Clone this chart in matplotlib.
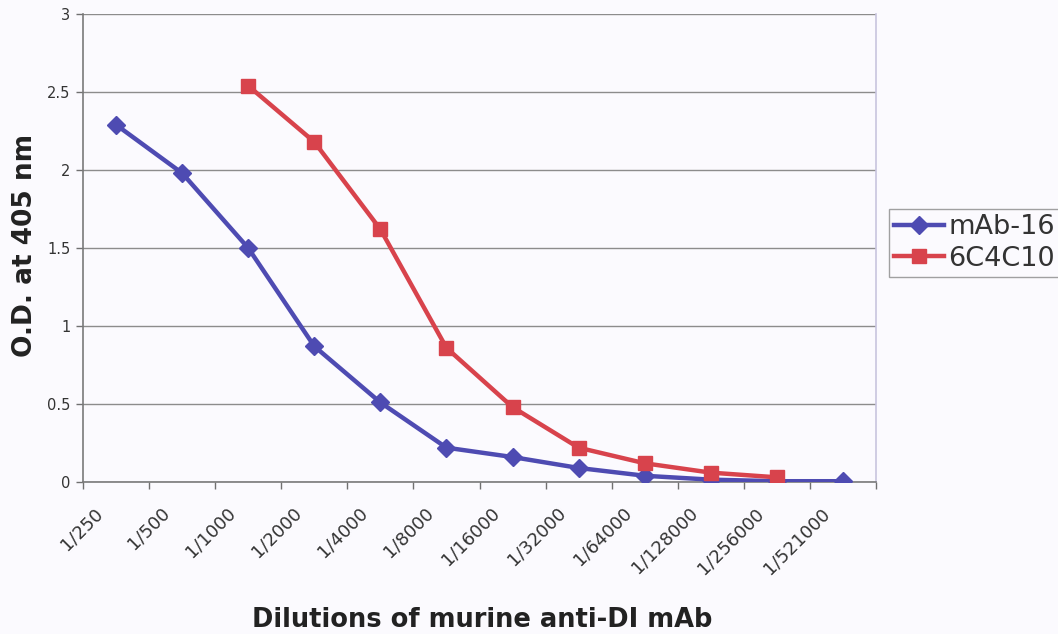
import matplotlib
matplotlib.use("Agg")
import matplotlib.pyplot as plt
from matplotlib.transforms import ScaledTranslation
import numpy as np

categories = ["1/250", "1/500", "1/1000", "1/2000", "1/4000", "1/8000", "1/16000",
              "1/32000", "1/64000", "1/128000", "1/256000", "1/521000"]
mab16 = [2.29, 1.98, 1.50, 0.87, 0.51, 0.22, 0.16, 0.09, 0.04, 0.015, 0.005, 0.005]
c6c4c10 = [None, None, 2.54, 2.18, 1.62, 0.86, 0.48, 0.22, 0.12, 0.06, 0.03, None]
yticks = [0, 0.5, 1, 1.5, 2, 2.5, 3]
ytick_labels = ["0", "0.5", "1", "1.5", "2", "2.5", "3"]

blue = "#4E4BB2"
red = "#D8434C"
bg = "#FBFAFE"

W, H = 1058, 634
fig = plt.figure(figsize=(W / 100, H / 100), dpi=100)
fig.patch.set_facecolor(bg)
ax = fig.add_axes([83 / W, 1 - 482 / H, (876 - 83) / W, (482 - 14) / H])
ax.set_facecolor(bg)

x = np.arange(len(categories))
ax.plot(x, mab16, color=blue, lw=3.2, marker="D", ms=9, mfc=blue, mec=blue,
        label="mAb-16", zorder=3)
xr = [i for i, v in enumerate(c6c4c10) if v is not None]
yr = [v for v in c6c4c10 if v is not None]
ax.plot(xr, yr, color=red, lw=3.2, marker="s", ms=10.5, mfc=red, mec=red,
        label="6C4C10", zorder=4)

ax.set_xlim(-0.5, len(categories) - 0.5)
ax.set_ylim(0, 3)
ax.set_yticks(yticks)
ax.set_yticklabels(ytick_labels, fontsize=10.5, color="#333333")
ax.yaxis.grid(True, color="#8C8C8C", lw=1.0)
ax.set_axisbelow(True)

ax.set_xticks(x)
ax.set_xticklabels(categories, rotation=45, ha="right", va="top",
                   rotation_mode="anchor", fontsize=13, color="#333333")
ax.tick_params(axis="x", which="major", length=0, pad=0)
off = ScaledTranslation(-0.22, -0.22, fig.dpi_scale_trans)
for lab in ax.get_xticklabels():
    lab.set_transform(lab.get_transform() + off)
ax.set_xticks(np.arange(-0.5, len(categories)), minor=True)
ax.tick_params(axis="x", which="minor", length=5, color="#707070", width=1)
ax.tick_params(axis="y", length=5, color="#707070", width=1, pad=4)

for s in ["left", "bottom"]:
    ax.spines[s].set_color("#7A7A7A")
    ax.spines[s].set_linewidth(1.2)
ax.spines["top"].set_visible(False)
ax.spines["right"].set_color("#C8C4DE")
ax.spines["right"].set_linewidth(1.2)

fig.text(482 / W, 1 - 627 / H, "Dilutions of murine anti-DI mAb", fontsize=18.5,
         fontweight="bold", color="#222222", ha="center", va="baseline")
fig.text(32 / W, 1 - 245 / H, "O.D. at 405 nm", fontsize=19, fontweight="bold",
         color="#222222", rotation=90, rotation_mode="anchor",
         ha="center", va="baseline")

leg = fig.legend(loc="upper left", bbox_to_anchor=(889 / W, 1 - 209 / H),
                 fontsize=19.5, frameon=True, fancybox=False, handlelength=1.85,
                 borderpad=0.19, labelspacing=0.2, handletextpad=0.15,
                 borderaxespad=0)
leg.get_frame().set_edgecolor("#8A8A8A")
leg.get_frame().set_linewidth(1.0)
leg.get_frame().set_facecolor(bg)
for t in leg.get_texts():
    t.set_color("#333333")

fig.savefig("out.png", dpi=100, facecolor=fig.get_facecolor())
